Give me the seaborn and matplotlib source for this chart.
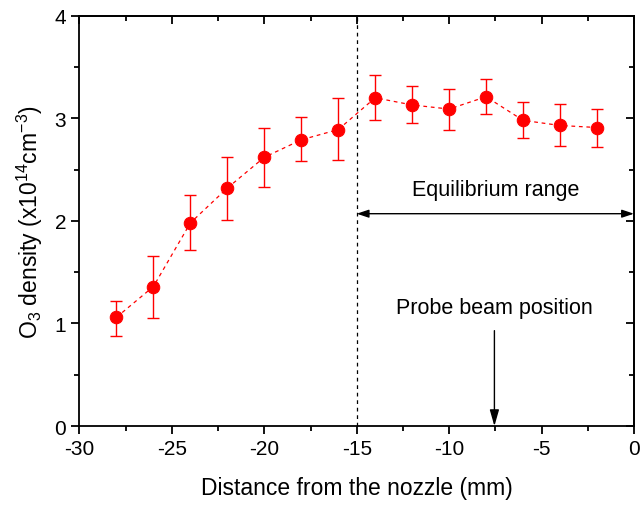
import matplotlib
matplotlib.use("Agg")
import matplotlib.pyplot as plt
import seaborn as sns
import numpy as np
import pandas as pd
from matplotlib.ticker import MultipleLocator

distance = [-28, -26, -24, -22, -20, -18, -16, -14, -12, -10, -8, -6, -4, -2]
density = [1.06, 1.36, 1.98, 2.32, 2.62, 2.79, 2.89, 3.20, 3.13, 3.09, 3.21, 2.98, 2.93, 2.91]
err_upper = [1.22, 1.66, 2.25, 2.62, 2.91, 3.01, 3.20, 3.42, 3.31, 3.29, 3.38, 3.16, 3.14, 3.09]
err_lower = [0.88, 1.05, 1.72, 2.01, 2.33, 2.58, 2.59, 2.98, 2.95, 2.89, 3.04, 2.81, 2.73, 2.72]

df = pd.DataFrame({"distance": distance, "density": density})

sns.set_theme(style="white")
plt.rcParams["font.family"] = ["Liberation Sans", "DejaVu Sans"]
plt.rcParams["mathtext.default"] = "regular"
plt.rcParams["axes.unicode_minus"] = False
for k in ("text.color", "axes.labelcolor", "xtick.color", "ytick.color", "axes.edgecolor"):
    plt.rcParams[k] = "black"

fig = plt.figure(figsize=(6.41, 5.06), dpi=100)
ax = fig.add_axes([0.124, 0.156, 0.865, 0.811])

dens = np.array(density)
yerr = [dens - np.array(err_lower), np.array(err_upper) - dens]
ax.errorbar(distance, density, yerr=yerr, fmt="none", ecolor="red",
            elinewidth=1.0, capsize=4.5, capthick=1.0, zorder=2)
sns.lineplot(data=df, x="distance", y="density", ax=ax, color="red",
             linestyle=(0, (3, 3)), linewidth=0.9, marker="o", markersize=9,
             markeredgecolor="red", markerfacecolor="red", zorder=3)

ax.axvline(-15, color="black", linestyle=(0, (3, 3)), linewidth=0.9, zorder=1)

ax.annotate("", xy=(-15, 2.07), xytext=(0, 2.07),
            arrowprops=dict(arrowstyle="<|-|>,head_length=0.6,head_width=0.2", color="black", lw=1.0,
                            mutation_scale=12, shrinkA=0, shrinkB=0))
ax.text(-7.5, 2.31, "Equilibrium range", ha="center", va="center", fontsize=15.5)

ax.annotate("", xy=(-7.55, 0.0), xytext=(-7.55, 0.93),
            arrowprops=dict(arrowstyle="-|>,head_length=0.7,head_width=0.2", color="black", lw=1.0,
                            mutation_scale=14, shrinkA=0, shrinkB=0))
ax.text(-7.55, 1.16, "Probe beam position", ha="center", va="center", fontsize=15.5)

ax.set_xlim(-30, 0)
ax.set_ylim(0, 4)
ax.xaxis.set_major_locator(MultipleLocator(5))
ax.xaxis.set_minor_locator(MultipleLocator(2.5))
ax.yaxis.set_major_locator(MultipleLocator(1))
ax.yaxis.set_minor_locator(MultipleLocator(0.5))

for s in ax.spines.values():
    s.set_color("black")
    s.set_linewidth(1.3)

ax.tick_params(axis="both", which="both", direction="out", bottom=True, left=True,
               top=False, right=False, colors="black", labelsize=15, width=1.3)
ax.tick_params(which="major", length=6)
ax.tick_params(which="minor", length=3.5)

# inward ticks on top and right
ax2 = ax.secondary_xaxis("top")
ax2.xaxis.set_major_locator(MultipleLocator(5))
ax2.xaxis.set_minor_locator(MultipleLocator(2.5))
ax2.tick_params(which="both", direction="in", labeltop=False, width=1.3)
ax2.tick_params(which="major", length=6)
ax2.tick_params(which="minor", length=3.5)
ax3 = ax.secondary_yaxis("right")
ax3.yaxis.set_major_locator(MultipleLocator(1))
ax3.yaxis.set_minor_locator(MultipleLocator(0.5))
ax3.tick_params(which="both", direction="in", labelright=False, width=1.3)
ax3.tick_params(which="major", length=6)
ax3.tick_params(which="minor", length=3.5)
for a in (ax2, ax3):
    for s in a.spines.values():
        s.set_linewidth(1.3)

ax.set_xlabel("Distance from the nozzle (mm)", fontsize=16.5, labelpad=13)
ax.set_ylabel("O$_3$ density (x10$^{14}$cm$^{-3}$)", fontsize=16.5, labelpad=7)

fig.savefig("out.png", dpi=100)
